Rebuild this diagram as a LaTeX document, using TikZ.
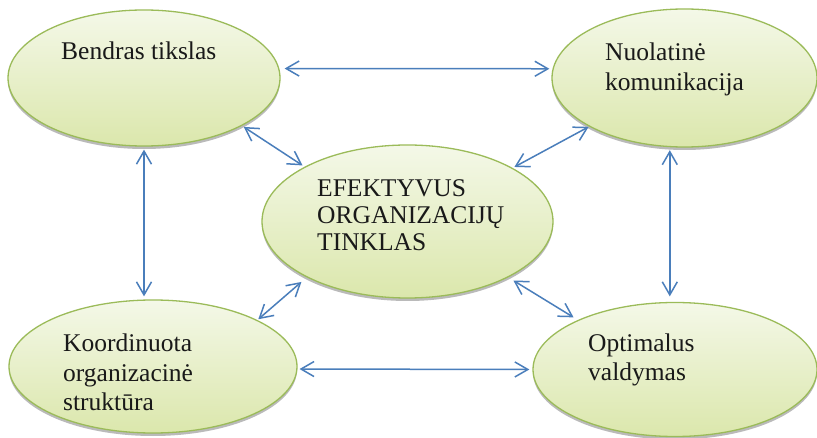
\documentclass[tikz,border=0pt]{standalone}
\usepackage{fontspec}
\setmainfont{Liberation Serif}
\usetikzlibrary{shapes.geometric,arrows.meta,shadows}
\definecolor{arrowblue}{RGB}{74,126,187}
\definecolor{ellborder}{RGB}{155,187,89}
\definecolor{elltop}{RGB}{244,248,232}
\definecolor{ellbot}{RGB}{219,231,172}
\tikzset{
  bubble/.style={ellipse, draw=ellborder, line width=1.3pt, inner sep=0pt,
    top color=elltop, bottom color=ellbot,
    drop shadow={shadow xshift=0pt, shadow yshift=-3pt, fill=black!45, opacity=0.6}},
  label text/.style={anchor=base west, align=left, inner sep=0pt, text=black!90,
    font=\fontsize{25.5}{29.7}\selectfont},
  conn/.style={draw=arrowblue, line width=1.5pt,
    {Straight Barb[length=13pt,width=15pt]}-{Straight Barb[length=13pt,width=15pt]}}
}
\begin{document}
\begin{tikzpicture}[x=1pt,y=-1pt]
\useasboundingbox[fill=white] (0,0) rectangle (817,438);
\node[bubble, minimum width=272pt, minimum height=136pt] (tl) at (144,78) {};
\node[bubble, minimum width=265pt, minimum height=138pt] (tr) at (684.5,78) {};
\node[bubble, minimum width=291pt, minimum height=153pt] (c) at (407.5,221.5) {};
\node[bubble, minimum width=288pt, minimum height=133pt] (bl) at (153,366.5) {};
\node[bubble, minimum width=284pt, minimum height=134pt] (br) at (675,369.5) {};

% base anchor of a multi-line node = baseline of its last line
\node[label text] (tlt) at (61,60) {Bendras tikslas};
\node[label text] (trt) at (605,90.5) {Nuolatinė\\komunikacija};
\node[label text, font=\fontsize{25.5}{27}\selectfont] (ct) at (317,250.7) {EFEKTYVUS\\ORGANIZACIJŲ\\TINKLAS};
\node[label text] (blt) at (63,410.7) {Koordinuota\\organizacinė\\struktūra};
\node[label text] (brt) at (588,380.7) {Optimalus\\valdymas};

\draw[conn, shorten <=5.3pt, shorten >=3.2pt] (tl.4) -- (tr.176);
\draw[conn, shorten <=2pt, shorten >=3pt] (bl.-1) -- (br.180);
\draw[conn, shorten <=3pt, shorten >=3pt] (tl.south) -- (tl.south |- bl.north);
\draw[conn, shorten <=3pt, shorten >=5.5pt] (tr.258) -- (tr.258 |- br.north);
\draw[conn, shorten <=2pt, shorten >=2.4pt] (tl.-26.3) -- (c.152.6);
\draw[conn, shorten <=0.6pt, shorten >=2pt] (tr.207.4) -- (c.27.3);
\draw[conn, shorten <=7pt, shorten >=1.2pt] (c.209.4) -- (bl.24.8);
\draw[conn, shorten <=6pt, shorten >=5pt] (c.331) -- (br.153.4);
\end{tikzpicture}
\end{document}
